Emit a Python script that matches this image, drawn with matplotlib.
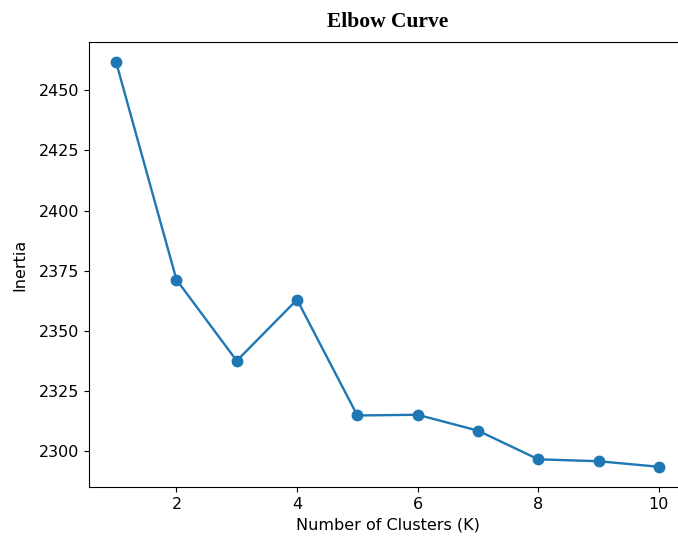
import matplotlib
matplotlib.use('Agg')
import matplotlib.pyplot as plt

k_values = [1, 2, 3, 4, 5, 6, 7, 8, 9, 10]
inertia = [2461.6, 2371.3, 2337.6, 2363.0, 2314.9, 2315.2, 2308.6, 2296.7, 2295.9, 2293.6]

fig = plt.figure(figsize=(6.78, 5.38), dpi=100)
ax = fig.add_axes([89 / 678, 51 / 538, 597 / 678, 445 / 538])

ax.plot(k_values, inertia, marker='o', color='#1f77b4', linewidth=1.7, markersize=7.5)
ax.set_title("Elbow Curve", fontsize=15.5, fontweight='bold',
             family='Liberation Serif', pad=11)
ax.set_xlabel("Number of Clusters (K)", fontsize=11.5)
ax.set_ylabel("Inertia", fontsize=11.5, labelpad=8)
ax.tick_params(labelsize=11.5)
ax.spines['right'].set_visible(False)

fig.savefig("out.png", dpi=100)
